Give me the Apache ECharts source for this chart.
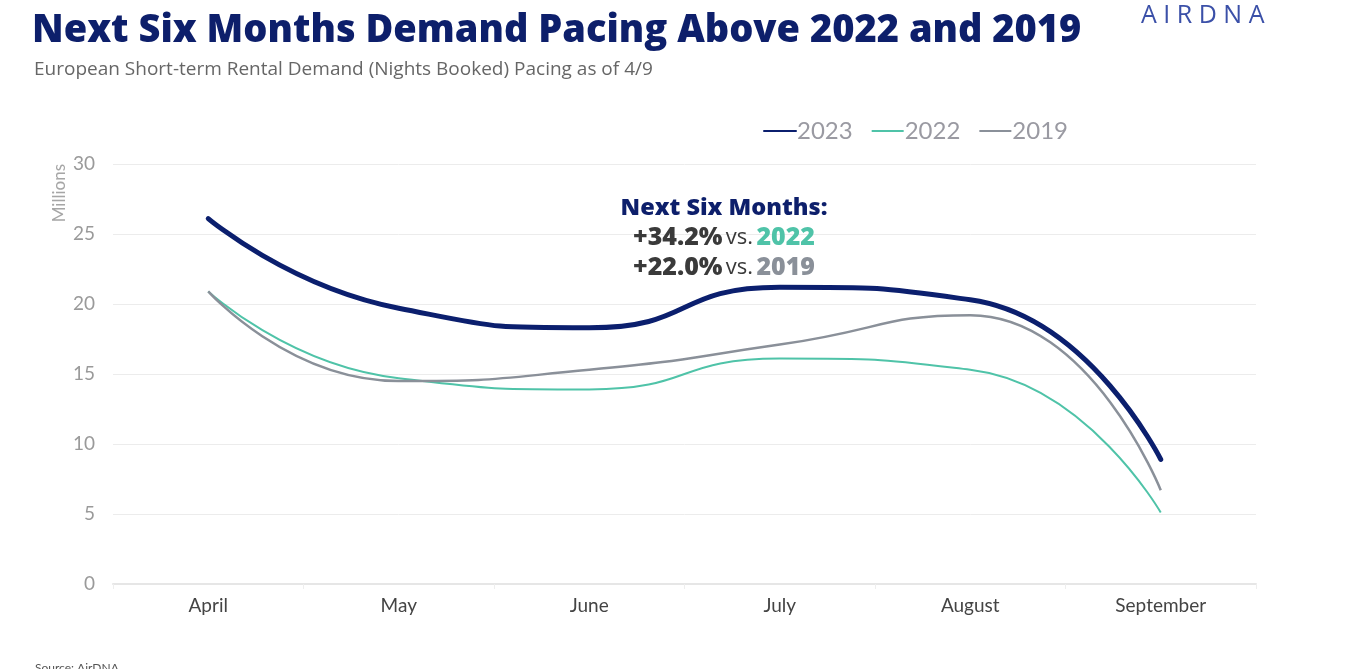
<!DOCTYPE html>
<html><head><meta charset="utf-8">
<script src="https://cdn.jsdelivr.net/npm/echarts@6/dist/echarts.min.js"></script>
<style>html,body{margin:0;padding:0;background:#fff}#c{width:1346px;height:669px}</style>
</head><body><div id="c"></div>
<script>
const months = ['April','May','June','July','August','September'];
const s2023 = [26.1, 19.7, 18.3, 21.2, 20.3, 8.9];
const s2022 = [20.9, 14.7, 13.9, 16.1, 15.3, 5.1];
const s2019 = [20.9, 14.5, 15.3, 17.1, 19.2, 6.7];
const yTicks = [0, 5, 10, 15, 20, 25, 30];

const chart = echarts.init(document.getElementById('c'));
const F = 'Lato, "Noto Sans", sans-serif';
const T = '"Open Sans", "Noto Sans", sans-serif';
chart.setOption({
  animation: false,
  textStyle: {fontFamily: F},
  title: [
    {text: 'Next Six Months Demand Pacing Above 2022 and 2019', left: 27, top: 7,
     textStyle: {fontFamily: T, fontSize: 38, fontWeight: 800, color: '#0d1f6b'}},
    {text: 'European Short-term Rental Demand (Nights Booked) Pacing as of 4/9', left: 29, top: 55,
     textStyle: {fontFamily: T, fontSize: 19, fontWeight: 'normal', color: '#666'}},
    {text: 'A I R D N A', left: 1136, top: -2,
     textStyle: {fontFamily: T, fontSize: 25, fontWeight: 500, color: '#3b50a8'}},
    {text: 'Source: AirDNA', left: 30, top: 657,
     textStyle: {fontFamily: F, fontSize: 12, fontWeight: 'normal', color: '#555'}}
  ],
  legend: {
    top: 114, left: 758, itemGap: 18, itemWidth: 32, itemHeight: 10,
    itemStyle: {opacity: 0},
    textStyle: {fontSize: 24, color: '#9a9aa2', padding: [0,0,0,-4]},
    data: ['2023','2022','2019']
  },
  grid: {left: 113, right: 90, top: 164, bottom: 85},
  xAxis: {
    type: 'category', data: months, boundaryGap: true,
    axisLine: {lineStyle: {color: '#e6e6e6', width: 2}},
    axisTick: {show: true, lineStyle: {color: '#eeeeee'}},
    axisLabel: {fontSize: 19, color: '#444', margin: 12}
  },
  yAxis: {
    type: 'value', min: 0, max: 30, interval: 5,
    name: 'Millions', nameLocation: 'end', nameRotate: 90,
    nameGap: 0,
    nameTextStyle: {fontSize: 17, color: '#a6a6a6', align: 'right', verticalAlign: 'bottom', padding: [0,0,45,0]},
    axisLine: {show: false}, axisTick: {show: false},
    axisLabel: {fontSize: 19, color: '#9a9a9a', margin: 18,
      formatter: v => yTicks.includes(v) ? String(v) : ''},
    splitLine: {lineStyle: {color: '#ececec', width: 1}}
  },
  series: [
    {name: '2023', type: 'line', data: s2023, smooth: 0.55, symbol: 'none',
     lineStyle: {color: '#0b1f6e', width: 5, cap: 'round'}, itemStyle: {color: '#0b1f6e'}, z: 5},
    {name: '2022', type: 'line', data: s2022, smooth: 0.55, symbol: 'none',
     lineStyle: {color: '#4fc3a8', width: 2}, itemStyle: {color: '#4fc3a8'}},
    {name: '2019', type: 'line', data: s2019, smooth: 0.55, symbol: 'none',
     lineStyle: {color: '#8a9099', width: 2.5}, itemStyle: {color: '#8a9099'}}
  ],
  graphic: [{
    type: 'text', x: 724, y: 193, z: 10,
    style: {
      textAlign: 'center',
      text: '{h|Next Six Months:}\n{b|+34.2%} {v|vs.} {t|2022}\n{b|+22.0%} {v|vs.} {g|2019}',
      rich: {
        h: {fontFamily: T, fontSize: 23.5, fontWeight: 800, fill: '#0d1f6b', lineHeight: 30},
        b: {fontFamily: T, fontSize: 25, fontWeight: 800, fill: '#3a3a3a', lineHeight: 30},
        v: {fontFamily: T, fontSize: 22, fontWeight: 'normal', fill: '#3a3a3a', lineHeight: 30},
        t: {fontFamily: T, fontSize: 25, fontWeight: 800, fill: '#4fc3a8', lineHeight: 30},
        g: {fontFamily: T, fontSize: 25, fontWeight: 800, fill: '#8a9099', lineHeight: 30}
      }
    }
  }]
});
</script></body></html>
